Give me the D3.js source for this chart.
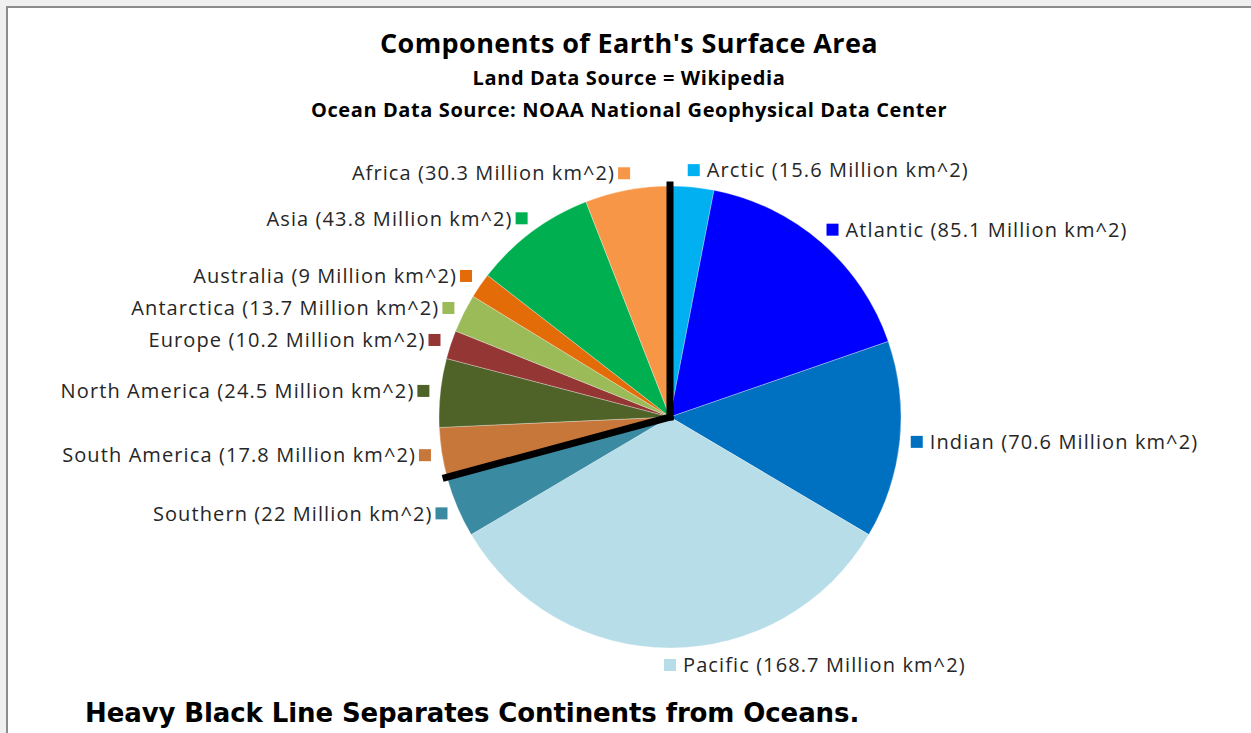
<!DOCTYPE html>
<html>
<head>
<meta charset="utf-8">
<script src="https://cdn.jsdelivr.net/npm/d3@7"></script>
<style>
  body { margin: 0; background: #f0f0f0; }
  svg { display: block; }
</style>
</head>
<body>
<svg id="chart" width="1251" height="733"></svg>
<script>
// Surface area components, clockwise from 12 o'clock (million km^2)
const regions = ["Arctic", "Atlantic", "Indian", "Pacific", "Southern",
  "South America", "North America", "Europe", "Antarctica", "Australia", "Asia", "Africa"];
const areas = [15.6, 85.1, 70.6, 168.7, 22, 17.8, 24.5, 10.2, 13.7, 9, 43.8, 30.3];
const oceans = ["Arctic", "Atlantic", "Indian", "Pacific", "Southern"];
const sliceColors = ["#00b0f0", "#0000ff", "#0070c0", "#b7dde8", "#3a8aa2",
  "#c8773a", "#4f6228", "#943634", "#9bbb59", "#e36c09", "#00b050", "#f79646"];
const titleLines = ["Components of Earth's Surface Area",
  "Land Data Source = Wikipedia",
  "Ocean Data Source: NOAA National Geophysical Data Center"];
const footnote = "Heavy Black Line Separates Continents from Oceans.";

const data = regions.map((name, i) => ({ name, value: areas[i] }));

const svg = d3.select("#chart");
const W = 1251, H = 733;

// chart area frame
svg.append("rect")
  .attr("x", 7).attr("y", 7).attr("width", W + 10).attr("height", H + 10)
  .attr("fill", "#fff").attr("stroke", "#8c8c8c").attr("stroke-width", 2);

// titles
const tx = 629;
svg.append("text").attr("x", tx).attr("y", 53)
  .attr("text-anchor", "middle")
  .style("font", "bold 27px 'Open Sans'").style("letter-spacing", "0.4px").attr("fill", "#000")
  .text(titleLines[0]);
svg.append("text").attr("x", tx).attr("y", 85)
  .attr("text-anchor", "middle")
  .style("font", "bold 20px 'Open Sans'").style("letter-spacing", "0.6px").attr("fill", "#000")
  .text(titleLines[1]);
svg.append("text").attr("x", tx).attr("y", 117)
  .attr("text-anchor", "middle")
  .style("font", "bold 20px 'Open Sans'").style("letter-spacing", "0.6px").attr("fill", "#000")
  .text(titleLines[2]);

// pie
const cx = 670, cy = 417, R = 231, labelR = 248;
const color = d3.scaleOrdinal().domain(regions).range(sliceColors);
const pie = d3.pie().sort(null).value(d => d.value);
const arcs = pie(data);
const arc = d3.arc().innerRadius(0).outerRadius(R);
const labelArc = d3.arc().innerRadius(labelR).outerRadius(labelR);

const g = svg.append("g").attr("transform", `translate(${cx},${cy})`);
g.selectAll("path.slice").data(arcs).join("path")
  .attr("class", "slice")
  .attr("d", arc)
  .attr("fill", d => color(d.data.name))
  .attr("stroke", "#fff").attr("stroke-width", 0.5).attr("stroke-opacity", 0.6);

// heavy divider between oceans and continents
const lastOcean = arcs.filter(d => oceans.includes(d.data.name)).pop();
const dividerAngles = [0, lastOcean.endAngle];
g.selectAll("line.divider").data(dividerAngles).join("line")
  .attr("class", "divider")
  .attr("x1", 0).attr("y1", 0)
  .attr("x2", a => Math.sin(a) * (R + 1))
  .attr("y2", a => -Math.cos(a) * (R + 1))
  .attr("stroke", "#000").attr("stroke-width", 7).attr("stroke-linecap", "square");

// data labels with legend key; labels on the left are spread so they don't collide
const box = 12, gap = 7, minGap = 32;
const midAngle = d => (d.startAngle + d.endAngle) / 2;
const onRight = d => midAngle(d) <= Math.PI + 0.01;
const pos = arcs.map(d => labelArc.centroid(d));
const leftIdx = arcs.map((d, i) => i).filter(i => !onRight(arcs[i]))
  .sort((a, b) => pos[a][1] - pos[b][1]);
for (let k = 1; k < leftIdx.length; k++) {
  const prev = pos[leftIdx[k - 1]], cur = pos[leftIdx[k]];
  if (cur[1] - prev[1] < minGap) cur[1] = prev[1] + minGap;
}

const labels = g.selectAll("g.label").data(arcs).join("g")
  .attr("class", "label")
  .attr("transform", (d, i) => `translate(${pos[i][0]},${pos[i][1]})`);
labels.append("rect")
  .attr("x", -box / 2).attr("y", -box / 2)
  .attr("width", box).attr("height", box)
  .attr("fill", d => color(d.data.name));
labels.append("text")
  .attr("x", d => onRight(d) ? box / 2 + gap : -box / 2 - 3)
  .attr("y", 0)
  .attr("dy", "0.36em")
  .attr("text-anchor", d => onRight(d) ? "start" : "end")
  .style("font", "20px 'Open Sans'").style("letter-spacing", "1.1px").attr("fill", "#262626")
  .text(d => `${d.data.name} (${d.data.value} Million km^2)`);

// footnote
svg.append("text").attr("x", 85).attr("y", 722)
  .style("font", "bold 26px 'DejaVu Sans'").style("letter-spacing", "-0.1px").attr("fill", "#000")
  .text(footnote);
</script>
</body>
</html>
